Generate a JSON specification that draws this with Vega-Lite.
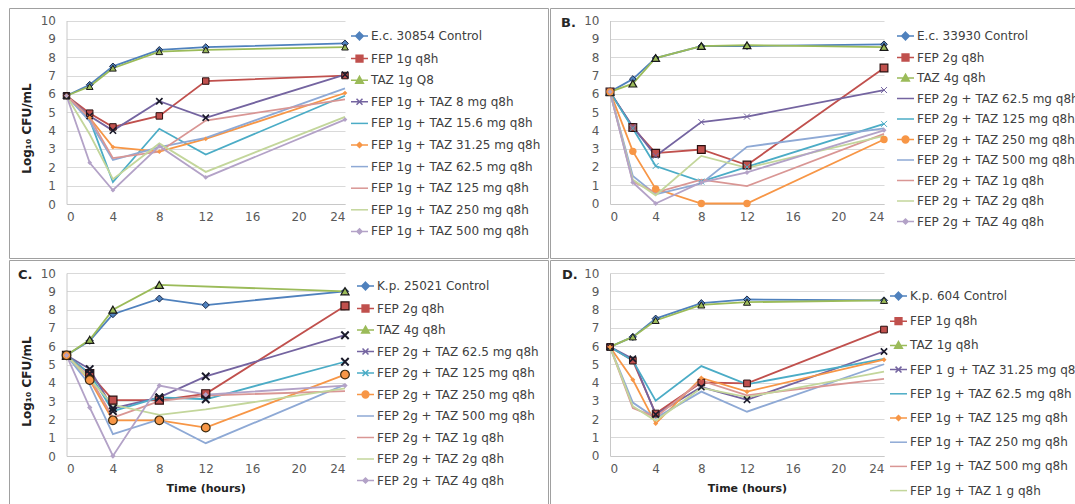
{
"$schema": "https://vega.github.io/schema/vega-lite/v6.json",
"padding": {"left": 8, "top": 7, "right": 0, "bottom": 0},
"datasets": {
"A": [
{"s":"E.c. 30854 Control","t":0,"v":5.9},{"s":"E.c. 30854 Control","t":2,"v":6.5},{"s":"E.c. 30854 Control","t":4,"v":7.5},{"s":"E.c. 30854 Control","t":8,"v":8.4},{"s":"E.c. 30854 Control","t":12,"v":8.55},{"s":"E.c. 30854 Control","t":24,"v":8.75},
{"s":"FEP 1g q8h","t":0,"v":5.9},{"s":"FEP 1g q8h","t":2,"v":4.95},{"s":"FEP 1g q8h","t":4,"v":4.2},{"s":"FEP 1g q8h","t":8,"v":4.8},{"s":"FEP 1g q8h","t":12,"v":6.7},{"s":"FEP 1g q8h","t":24,"v":7.0},
{"s":"TAZ 1g Q8","t":0,"v":5.9},{"s":"TAZ 1g Q8","t":2,"v":6.4},{"s":"TAZ 1g Q8","t":4,"v":7.4},{"s":"TAZ 1g Q8","t":8,"v":8.3},{"s":"TAZ 1g Q8","t":12,"v":8.4},{"s":"TAZ 1g Q8","t":24,"v":8.55},
{"s":"FEP 1g + TAZ 8 mg q8h","t":0,"v":5.9},{"s":"FEP 1g + TAZ 8 mg q8h","t":2,"v":4.8},{"s":"FEP 1g + TAZ 8 mg q8h","t":4,"v":4.0},{"s":"FEP 1g + TAZ 8 mg q8h","t":8,"v":5.6},{"s":"FEP 1g + TAZ 8 mg q8h","t":12,"v":4.7},{"s":"FEP 1g + TAZ 8 mg q8h","t":24,"v":7.05},
{"s":"FEP 1g + TAZ 15.6 mg q8h","t":0,"v":5.9},{"s":"FEP 1g + TAZ 15.6 mg q8h","t":2,"v":4.6},{"s":"FEP 1g + TAZ 15.6 mg q8h","t":4,"v":1.2},{"s":"FEP 1g + TAZ 15.6 mg q8h","t":8,"v":4.1},{"s":"FEP 1g + TAZ 15.6 mg q8h","t":12,"v":2.7},{"s":"FEP 1g + TAZ 15.6 mg q8h","t":24,"v":5.9},
{"s":"FEP 1g + TAZ 31.25 mg q8h","t":0,"v":5.9},{"s":"FEP 1g + TAZ 31.25 mg q8h","t":2,"v":4.7},{"s":"FEP 1g + TAZ 31.25 mg q8h","t":4,"v":3.1},{"s":"FEP 1g + TAZ 31.25 mg q8h","t":8,"v":2.85},{"s":"FEP 1g + TAZ 31.25 mg q8h","t":12,"v":3.55},{"s":"FEP 1g + TAZ 31.25 mg q8h","t":24,"v":6.05},
{"s":"FEP 1g + TAZ 62.5 mg q8h","t":0,"v":5.9},{"s":"FEP 1g + TAZ 62.5 mg q8h","t":2,"v":4.5},{"s":"FEP 1g + TAZ 62.5 mg q8h","t":4,"v":2.4},{"s":"FEP 1g + TAZ 62.5 mg q8h","t":8,"v":3.1},{"s":"FEP 1g + TAZ 62.5 mg q8h","t":12,"v":3.6},{"s":"FEP 1g + TAZ 62.5 mg q8h","t":24,"v":6.3},
{"s":"FEP 1g + TAZ 125 mg q8h","t":0,"v":5.9},{"s":"FEP 1g + TAZ 125 mg q8h","t":2,"v":4.7},{"s":"FEP 1g + TAZ 125 mg q8h","t":4,"v":2.5},{"s":"FEP 1g + TAZ 125 mg q8h","t":8,"v":2.85},{"s":"FEP 1g + TAZ 125 mg q8h","t":12,"v":4.55},{"s":"FEP 1g + TAZ 125 mg q8h","t":24,"v":5.7},
{"s":"FEP 1g + TAZ 250 mg q8h","t":0,"v":5.9},{"s":"FEP 1g + TAZ 250 mg q8h","t":2,"v":3.8},{"s":"FEP 1g + TAZ 250 mg q8h","t":4,"v":1.35},{"s":"FEP 1g + TAZ 250 mg q8h","t":8,"v":3.3},{"s":"FEP 1g + TAZ 250 mg q8h","t":12,"v":1.75},{"s":"FEP 1g + TAZ 250 mg q8h","t":24,"v":4.75},
{"s":"FEP 1g + TAZ 500 mg q8h","t":0,"v":5.9},{"s":"FEP 1g + TAZ 500 mg q8h","t":2,"v":2.25},{"s":"FEP 1g + TAZ 500 mg q8h","t":4,"v":0.75},{"s":"FEP 1g + TAZ 500 mg q8h","t":8,"v":3.15},{"s":"FEP 1g + TAZ 500 mg q8h","t":12,"v":1.45},{"s":"FEP 1g + TAZ 500 mg q8h","t":24,"v":4.6}
],
"B": [
{"s":"E.c. 33930 Control","t":0,"v":6.1},{"s":"E.c. 33930 Control","t":2,"v":6.8},{"s":"E.c. 33930 Control","t":4,"v":7.95},{"s":"E.c. 33930 Control","t":8,"v":8.6},{"s":"E.c. 33930 Control","t":12,"v":8.6},{"s":"E.c. 33930 Control","t":24,"v":8.7},
{"s":"FEP 2g q8h","t":0,"v":6.1},{"s":"FEP 2g q8h","t":2,"v":4.15},{"s":"FEP 2g q8h","t":4,"v":2.75},{"s":"FEP 2g q8h","t":8,"v":2.95},{"s":"FEP 2g q8h","t":12,"v":2.1},{"s":"FEP 2g q8h","t":24,"v":7.4},
{"s":"TAZ 4g q8h","t":0,"v":6.1},{"s":"TAZ 4g q8h","t":2,"v":6.55},{"s":"TAZ 4g q8h","t":4,"v":7.95},{"s":"TAZ 4g q8h","t":8,"v":8.6},{"s":"TAZ 4g q8h","t":12,"v":8.65},{"s":"TAZ 4g q8h","t":24,"v":8.55},
{"s":"FEP 2g + TAZ 62.5 mg q8h","t":0,"v":6.1},{"s":"FEP 2g + TAZ 62.5 mg q8h","t":2,"v":4.2},{"s":"FEP 2g + TAZ 62.5 mg q8h","t":4,"v":2.6},{"s":"FEP 2g + TAZ 62.5 mg q8h","t":8,"v":4.45},{"s":"FEP 2g + TAZ 62.5 mg q8h","t":12,"v":4.75},{"s":"FEP 2g + TAZ 62.5 mg q8h","t":24,"v":6.2},
{"s":"FEP 2g + TAZ 125 mg q8h","t":0,"v":6.1},{"s":"FEP 2g + TAZ 125 mg q8h","t":2,"v":4.1},{"s":"FEP 2g + TAZ 125 mg q8h","t":4,"v":2.05},{"s":"FEP 2g + TAZ 125 mg q8h","t":8,"v":1.2},{"s":"FEP 2g + TAZ 125 mg q8h","t":12,"v":2.0},{"s":"FEP 2g + TAZ 125 mg q8h","t":24,"v":4.35},
{"s":"FEP 2g + TAZ 250 mg q8h","t":0,"v":6.1},{"s":"FEP 2g + TAZ 250 mg q8h","t":2,"v":2.85},{"s":"FEP 2g + TAZ 250 mg q8h","t":4,"v":0.8},{"s":"FEP 2g + TAZ 250 mg q8h","t":8,"v":0},{"s":"FEP 2g + TAZ 250 mg q8h","t":12,"v":0},{"s":"FEP 2g + TAZ 250 mg q8h","t":24,"v":3.5},
{"s":"FEP 2g + TAZ 500 mg q8h","t":0,"v":6.1},{"s":"FEP 2g + TAZ 500 mg q8h","t":2,"v":1.5},{"s":"FEP 2g + TAZ 500 mg q8h","t":4,"v":0.5},{"s":"FEP 2g + TAZ 500 mg q8h","t":8,"v":1.1},{"s":"FEP 2g + TAZ 500 mg q8h","t":12,"v":3.1},{"s":"FEP 2g + TAZ 500 mg q8h","t":24,"v":4.1},
{"s":"FEP 2g + TAZ 1g q8h","t":0,"v":6.1},{"s":"FEP 2g + TAZ 1g q8h","t":2,"v":1.2},{"s":"FEP 2g + TAZ 1g q8h","t":4,"v":0.6},{"s":"FEP 2g + TAZ 1g q8h","t":8,"v":1.3},{"s":"FEP 2g + TAZ 1g q8h","t":12,"v":0.95},{"s":"FEP 2g + TAZ 1g q8h","t":24,"v":3.8},
{"s":"FEP 2g + TAZ 2g q8h","t":0,"v":6.1},{"s":"FEP 2g + TAZ 2g q8h","t":2,"v":1.3},{"s":"FEP 2g + TAZ 2g q8h","t":4,"v":0.45},{"s":"FEP 2g + TAZ 2g q8h","t":8,"v":2.6},{"s":"FEP 2g + TAZ 2g q8h","t":12,"v":1.95},{"s":"FEP 2g + TAZ 2g q8h","t":24,"v":3.7},
{"s":"FEP 2g + TAZ 4g q8h","t":0,"v":6.1},{"s":"FEP 2g + TAZ 4g q8h","t":2,"v":1.15},{"s":"FEP 2g + TAZ 4g q8h","t":4,"v":0},{"s":"FEP 2g + TAZ 4g q8h","t":8,"v":1.15},{"s":"FEP 2g + TAZ 4g q8h","t":12,"v":1.7},{"s":"FEP 2g + TAZ 4g q8h","t":24,"v":4.0}
],
"C": [
{"s":"K.p. 25021 Control","t":0,"v":5.5},{"s":"K.p. 25021 Control","t":2,"v":6.3},{"s":"K.p. 25021 Control","t":4,"v":7.75},{"s":"K.p. 25021 Control","t":8,"v":8.6},{"s":"K.p. 25021 Control","t":12,"v":8.25},{"s":"K.p. 25021 Control","t":24,"v":9.0},
{"s":"FEP 2g q8h","t":0,"v":5.5},{"s":"FEP 2g q8h","t":2,"v":4.5},{"s":"FEP 2g q8h","t":4,"v":3.05},{"s":"FEP 2g q8h","t":8,"v":3.05},{"s":"FEP 2g q8h","t":12,"v":3.4},{"s":"FEP 2g q8h","t":24,"v":8.2},
{"s":"TAZ 4g q8h","t":0,"v":5.5},{"s":"TAZ 4g q8h","t":2,"v":6.35},{"s":"TAZ 4g q8h","t":4,"v":8.0},{"s":"TAZ 4g q8h","t":8,"v":9.35},{"s":"TAZ 4g q8h","t":24,"v":9.0},
{"s":"FEP 2g + TAZ 62.5 mg q8h","t":0,"v":5.5},{"s":"FEP 2g + TAZ 62.5 mg q8h","t":2,"v":4.75},{"s":"FEP 2g + TAZ 62.5 mg q8h","t":4,"v":2.6},{"s":"FEP 2g + TAZ 62.5 mg q8h","t":8,"v":3.2},{"s":"FEP 2g + TAZ 62.5 mg q8h","t":12,"v":4.35},{"s":"FEP 2g + TAZ 62.5 mg q8h","t":24,"v":6.6},
{"s":"FEP 2g + TAZ 125 mg q8h","t":0,"v":5.5},{"s":"FEP 2g + TAZ 125 mg q8h","t":2,"v":4.5},{"s":"FEP 2g + TAZ 125 mg q8h","t":4,"v":2.45},{"s":"FEP 2g + TAZ 125 mg q8h","t":8,"v":3.2},{"s":"FEP 2g + TAZ 125 mg q8h","t":12,"v":3.1},{"s":"FEP 2g + TAZ 125 mg q8h","t":24,"v":5.15},
{"s":"FEP 2g + TAZ 250 mg q8h","t":0,"v":5.5},{"s":"FEP 2g + TAZ 250 mg q8h","t":2,"v":4.15},{"s":"FEP 2g + TAZ 250 mg q8h","t":4,"v":1.95},{"s":"FEP 2g + TAZ 250 mg q8h","t":8,"v":1.95},{"s":"FEP 2g + TAZ 250 mg q8h","t":12,"v":1.55},{"s":"FEP 2g + TAZ 250 mg q8h","t":24,"v":4.45},
{"s":"FEP 2g + TAZ 500 mg q8h","t":0,"v":5.5},{"s":"FEP 2g + TAZ 500 mg q8h","t":2,"v":3.9},{"s":"FEP 2g + TAZ 500 mg q8h","t":4,"v":1.2},{"s":"FEP 2g + TAZ 500 mg q8h","t":8,"v":2.0},{"s":"FEP 2g + TAZ 500 mg q8h","t":12,"v":0.7},{"s":"FEP 2g + TAZ 500 mg q8h","t":24,"v":3.9},
{"s":"FEP 2g + TAZ 1g q8h","t":0,"v":5.5},{"s":"FEP 2g + TAZ 1g q8h","t":2,"v":4.3},{"s":"FEP 2g + TAZ 1g q8h","t":4,"v":2.1},{"s":"FEP 2g + TAZ 1g q8h","t":8,"v":3.0},{"s":"FEP 2g + TAZ 1g q8h","t":12,"v":3.3},{"s":"FEP 2g + TAZ 1g q8h","t":24,"v":3.55},
{"s":"FEP 2g + TAZ 2g q8h","t":0,"v":5.5},{"s":"FEP 2g + TAZ 2g q8h","t":2,"v":4.2},{"s":"FEP 2g + TAZ 2g q8h","t":4,"v":2.8},{"s":"FEP 2g + TAZ 2g q8h","t":8,"v":2.25},{"s":"FEP 2g + TAZ 2g q8h","t":12,"v":2.55},{"s":"FEP 2g + TAZ 2g q8h","t":24,"v":3.7},
{"s":"FEP 2g + TAZ 4g q8h","t":0,"v":5.5},{"s":"FEP 2g + TAZ 4g q8h","t":2,"v":2.65},{"s":"FEP 2g + TAZ 4g q8h","t":4,"v":0},{"s":"FEP 2g + TAZ 4g q8h","t":8,"v":3.85},{"s":"FEP 2g + TAZ 4g q8h","t":12,"v":3.35},{"s":"FEP 2g + TAZ 4g q8h","t":24,"v":3.85}
],
"D": [
{"s":"K.p. 604 Control","t":0,"v":5.95},{"s":"K.p. 604 Control","t":2,"v":6.5},{"s":"K.p. 604 Control","t":4,"v":7.5},{"s":"K.p. 604 Control","t":8,"v":8.35},{"s":"K.p. 604 Control","t":12,"v":8.55},{"s":"K.p. 604 Control","t":24,"v":8.5},
{"s":"FEP 1g q8h","t":0,"v":5.95},{"s":"FEP 1g q8h","t":2,"v":5.2},{"s":"FEP 1g q8h","t":4,"v":2.3},{"s":"FEP 1g q8h","t":8,"v":4.0},{"s":"FEP 1g q8h","t":12,"v":3.95},{"s":"FEP 1g q8h","t":24,"v":6.9},
{"s":"TAZ 1g q8h","t":0,"v":5.95},{"s":"TAZ 1g q8h","t":2,"v":6.5},{"s":"TAZ 1g q8h","t":4,"v":7.4},{"s":"TAZ 1g q8h","t":8,"v":8.25},{"s":"TAZ 1g q8h","t":12,"v":8.4},{"s":"TAZ 1g q8h","t":24,"v":8.5},
{"s":"FEP 1 g + TAZ 31.25 mg q8h","t":0,"v":5.95},{"s":"FEP 1 g + TAZ 31.25 mg q8h","t":2,"v":5.3},{"s":"FEP 1 g + TAZ 31.25 mg q8h","t":4,"v":2.25},{"s":"FEP 1 g + TAZ 31.25 mg q8h","t":8,"v":3.75},{"s":"FEP 1 g + TAZ 31.25 mg q8h","t":12,"v":3.05},{"s":"FEP 1 g + TAZ 31.25 mg q8h","t":24,"v":5.7},
{"s":"FEP 1g + TAZ 62.5 mg q8h","t":0,"v":5.95},{"s":"FEP 1g + TAZ 62.5 mg q8h","t":2,"v":5.2},{"s":"FEP 1g + TAZ 62.5 mg q8h","t":4,"v":3.0},{"s":"FEP 1g + TAZ 62.5 mg q8h","t":8,"v":4.9},{"s":"FEP 1g + TAZ 62.5 mg q8h","t":12,"v":3.9},{"s":"FEP 1g + TAZ 62.5 mg q8h","t":24,"v":5.3},
{"s":"FEP 1g + TAZ 125 mg q8h","t":0,"v":5.95},{"s":"FEP 1g + TAZ 125 mg q8h","t":2,"v":4.15},{"s":"FEP 1g + TAZ 125 mg q8h","t":4,"v":1.75},{"s":"FEP 1g + TAZ 125 mg q8h","t":8,"v":4.25},{"s":"FEP 1g + TAZ 125 mg q8h","t":12,"v":3.5},{"s":"FEP 1g + TAZ 125 mg q8h","t":24,"v":5.25},
{"s":"FEP 1g + TAZ 250 mg q8h","t":0,"v":5.95},{"s":"FEP 1g + TAZ 250 mg q8h","t":2,"v":2.9},{"s":"FEP 1g + TAZ 250 mg q8h","t":4,"v":2.05},{"s":"FEP 1g + TAZ 250 mg q8h","t":8,"v":3.5},{"s":"FEP 1g + TAZ 250 mg q8h","t":12,"v":2.4},{"s":"FEP 1g + TAZ 250 mg q8h","t":24,"v":5.0},
{"s":"FEP 1g + TAZ 500 mg q8h","t":0,"v":5.95},{"s":"FEP 1g + TAZ 500 mg q8h","t":2,"v":2.6},{"s":"FEP 1g + TAZ 500 mg q8h","t":4,"v":2.1},{"s":"FEP 1g + TAZ 500 mg q8h","t":8,"v":4.1},{"s":"FEP 1g + TAZ 500 mg q8h","t":12,"v":3.3},{"s":"FEP 1g + TAZ 500 mg q8h","t":24,"v":4.2},
{"s":"FEP 1g + TAZ 1 g q8h","t":0,"v":5.95},{"s":"FEP 1g + TAZ 1 g q8h","t":2,"v":2.7},{"s":"FEP 1g + TAZ 1 g q8h","t":4,"v":1.9},{"s":"FEP 1g + TAZ 1 g q8h","t":8,"v":3.7},{"s":"FEP 1g + TAZ 1 g q8h","t":12,"v":3.2},{"s":"FEP 1g + TAZ 1 g q8h","t":24,"v":4.6}
]
},
"spacing": 0,
"resolve": {"scale": {"color": "independent", "shape": "independent"}, "legend": {"color": "independent", "shape": "independent"}},
"vconcat": [
{"spacing": 0,
"resolve": {"scale": {"color": "independent", "shape": "independent"}, "legend": {"color": "independent", "shape": "independent"}},
"hconcat": [
{
"width": 539, "height": 250,
"data": {"name": "A"},
"encoding": {
 "x": {"field": "t", "type": "quantitative", "scale": {"domain": [0, 24], "range": [57.5, 336], "nice": false}, "axis": {"values": [0,4,8,12,16,20,24], "offset": -54, "title": null}},
 "y": {"field": "v", "type": "quantitative", "scale": {"domain": [0, 10], "range": [196, 12.5], "nice": false, "zero": false}, "axis": {"values": [0,1,2,3,4,5,6,7,8,9,10], "offset": -57.5, "title": "Log₁₀ CFU/mL", "titleX": -33, "titleY": 120, "titleFontSize": 12}},
 "color": {"field": "s", "type": "nominal", "scale": {"domain": ["E.c. 30854 Control","FEP 1g q8h","TAZ 1g Q8","FEP 1g + TAZ 8 mg q8h","FEP 1g + TAZ 15.6 mg q8h","FEP 1g + TAZ 31.25 mg q8h","FEP 1g + TAZ 62.5 mg q8h","FEP 1g + TAZ 125 mg q8h","FEP 1g + TAZ 250 mg q8h","FEP 1g + TAZ 500 mg q8h"], "range": ["#4F81BD","#C0504D","#9BBB59","#7464A0","#4BACC6","#F79646","#8EA9D5","#D99694","#C3D69B","#B3A2C7"]}}
},
"layer": [
 {"mark": {"type": "line", "strokeWidth": 1.8}},
 {"transform": [{"filter": {"field": "s", "oneOf": ["E.c. 30854 Control"]}}], "mark": {"type": "point", "shape": "diamond", "filled": true, "size": 45, "stroke": "#1b2a4a", "strokeWidth": 1, "opacity": 1}},
 {"transform": [{"filter": {"field": "s", "oneOf": ["FEP 1g q8h"]}}], "mark": {"type": "point", "shape": "square", "filled": true, "size": 42, "stroke": "#2a1010", "strokeWidth": 1, "opacity": 1}},
 {"transform": [{"filter": {"field": "s", "oneOf": ["TAZ 1g Q8"]}}], "mark": {"type": "point", "shape": "triangle-up", "filled": true, "size": 45, "stroke": "#1a1a1a", "strokeWidth": 1, "opacity": 1}},
 {"transform": [{"filter": {"field": "s", "oneOf": ["FEP 1g + TAZ 8 mg q8h"]}}], "mark": {"type": "point", "shape": "M-1,-1L1,1M-1,1L1,-1", "filled": true, "size": 40, "stroke": "#1a1a2a", "strokeWidth": 1.6, "opacity": 1}},
 {"transform": [{"filter": {"field": "s", "oneOf": ["FEP 1g + TAZ 31.25 mg q8h", "FEP 1g + TAZ 500 mg q8h"]}}], "mark": {"type": "point", "shape": "diamond", "filled": true, "size": 22, "strokeWidth": 0, "opacity": 1}},
 {"transform": [{"filter": "datum.t < 0"}], "mark": {"type": "point", "filled": false, "opacity": 1},
  "encoding": {
   "color": {"field": "s", "type": "nominal", "scale": {"domain": ["E.c. 30854 Control","FEP 1g q8h","TAZ 1g Q8","FEP 1g + TAZ 8 mg q8h","FEP 1g + TAZ 15.6 mg q8h","FEP 1g + TAZ 31.25 mg q8h","FEP 1g + TAZ 62.5 mg q8h","FEP 1g + TAZ 125 mg q8h","FEP 1g + TAZ 250 mg q8h","FEP 1g + TAZ 500 mg q8h"], "range": ["#4F81BD","#C0504D","#9BBB59","#7464A0","#4BACC6","#F79646","#8EA9D5","#D99694","#C3D69B","#B3A2C7"]},
     "legend": {"orient": "none", "legendX": 341, "legendY": 18.5, "title": null, "rowPadding": 5.6}},
   "shape": {"field": "s", "type": "nominal", "scale": {"domain": ["E.c. 30854 Control","FEP 1g q8h","TAZ 1g Q8","FEP 1g + TAZ 8 mg q8h","FEP 1g + TAZ 15.6 mg q8h","FEP 1g + TAZ 31.25 mg q8h","FEP 1g + TAZ 62.5 mg q8h","FEP 1g + TAZ 125 mg q8h","FEP 1g + TAZ 250 mg q8h","FEP 1g + TAZ 500 mg q8h"],
     "range": ["M-1,0L1,0M0,-0.45L0.45,0L0,0.45L-0.45,0ZM0,-0.2L0.2,0L0,0.2L-0.2,0Z","M-1,0L1,0M-0.4,-0.4L0.4,-0.4L0.4,0.4L-0.4,0.4ZM-0.18,-0.18L0.18,-0.18L0.18,0.18L-0.18,0.18Z","M-1,0L1,0M0,-0.45L0.45,0.35L-0.45,0.35ZM0,-0.15L0.18,0.2L-0.18,0.2Z","M-1,0L1,0M-0.35,-0.35L0.35,0.35M-0.35,0.35L0.35,-0.35","M-1,0L1,0","M-1,0L1,0M0,-0.3L0.3,0L0,0.3L-0.3,0Z","M-1,0L1,0","M-1,0L1,0","M-1,0L1,0","M-1,0L1,0M0,-0.3L0.3,0L0,0.3L-0.3,0Z"]},
     "legend": {"orient": "none", "legendX": 341, "legendY": 18.5, "title": null, "rowPadding": 5.6}}
  }}
]
},
{
"width": 539, "height": 250,
"data": {"name": "B"},
"title": {"text": "B.", "anchor": "start", "frame": "group", "offset": -22, "dx": 11, "fontSize": 13, "fontWeight": "bold", "color": "#262626", "font": "DejaVu Sans"},
"encoding": {
 "x": {"field": "t", "type": "quantitative", "scale": {"domain": [0, 24], "range": [60, 334], "nice": false}, "axis": {"values": [0,4,8,12,16,20,24], "offset": -54, "title": null}},
 "y": {"field": "v", "type": "quantitative", "scale": {"domain": [0, 10], "range": [195.5, 12.5], "nice": false, "zero": false}, "axis": {"values": [0,1,2,3,4,5,6,7,8,9,10], "offset": -60, "title": null}},
 "color": {"field": "s", "type": "nominal", "scale": {"domain": ["E.c. 33930 Control","FEP 2g q8h","TAZ 4g q8h","FEP 2g + TAZ 62.5 mg q8h","FEP 2g + TAZ 125 mg q8h","FEP 2g + TAZ 250 mg q8h","FEP 2g + TAZ 500 mg q8h","FEP 2g + TAZ 1g q8h","FEP 2g + TAZ 2g q8h","FEP 2g + TAZ 4g q8h"], "range": ["#4F81BD","#C0504D","#9BBB59","#7464A0","#4BACC6","#F79646","#8EA9D5","#D99694","#C3D69B","#B3A2C7"]}}
},
"layer": [
 {"mark": {"type": "line", "strokeWidth": 1.8}},
 {"transform": [{"filter": {"field": "s", "oneOf": ["E.c. 33930 Control"]}}], "mark": {"type": "point", "shape": "diamond", "filled": true, "size": 45, "stroke": "#1b2a4a", "strokeWidth": 1, "opacity": 1}},
 {"transform": [{"filter": {"field": "s", "oneOf": ["FEP 2g q8h"]}}], "mark": {"type": "point", "shape": "square", "filled": true, "size": 60, "stroke": "#2a1010", "strokeWidth": 1.2, "opacity": 1}},
 {"transform": [{"filter": {"field": "s", "oneOf": ["TAZ 4g q8h"]}}], "mark": {"type": "point", "shape": "triangle-up", "filled": true, "size": 60, "stroke": "#1a1a1a", "strokeWidth": 1.2, "opacity": 1}},
 {"transform": [{"filter": {"field": "s", "oneOf": ["FEP 2g + TAZ 62.5 mg q8h", "FEP 2g + TAZ 125 mg q8h"]}}], "mark": {"type": "point", "shape": "M-1,-1L1,1M-1,1L1,-1", "filled": false, "size": 36, "strokeWidth": 1, "opacity": 1}},
 {"transform": [{"filter": {"field": "s", "oneOf": ["FEP 2g + TAZ 250 mg q8h"]}}], "mark": {"type": "point", "shape": "circle", "filled": true, "size": 55, "strokeWidth": 0, "opacity": 1}},
 {"transform": [{"filter": {"field": "s", "oneOf": ["FEP 2g + TAZ 4g q8h"]}}], "mark": {"type": "point", "shape": "diamond", "filled": true, "size": 25, "strokeWidth": 0, "opacity": 1}},
 {"transform": [{"filter": "datum.t < 0"}], "mark": {"type": "point", "filled": false, "opacity": 1},
  "encoding": {
   "color": {"field": "s", "type": "nominal", "scale": {"domain": ["E.c. 33930 Control","FEP 2g q8h","TAZ 4g q8h","FEP 2g + TAZ 62.5 mg q8h","FEP 2g + TAZ 125 mg q8h","FEP 2g + TAZ 250 mg q8h","FEP 2g + TAZ 500 mg q8h","FEP 2g + TAZ 1g q8h","FEP 2g + TAZ 2g q8h","FEP 2g + TAZ 4g q8h"], "range": ["#4F81BD","#C0504D","#9BBB59","#7464A0","#4BACC6","#F79646","#8EA9D5","#D99694","#C3D69B","#B3A2C7"]},
     "legend": {"orient": "none", "legendX": 346, "legendY": 18.5, "title": null, "rowPadding": 4.5}},
   "shape": {"field": "s", "type": "nominal", "scale": {"domain": ["E.c. 33930 Control","FEP 2g q8h","TAZ 4g q8h","FEP 2g + TAZ 62.5 mg q8h","FEP 2g + TAZ 125 mg q8h","FEP 2g + TAZ 250 mg q8h","FEP 2g + TAZ 500 mg q8h","FEP 2g + TAZ 1g q8h","FEP 2g + TAZ 2g q8h","FEP 2g + TAZ 4g q8h"],
     "range": ["M-1,0L1,0M0,-0.45L0.45,0L0,0.45L-0.45,0ZM0,-0.2L0.2,0L0,0.2L-0.2,0Z","M-1,0L1,0M-0.4,-0.4L0.4,-0.4L0.4,0.4L-0.4,0.4ZM-0.18,-0.18L0.18,-0.18L0.18,0.18L-0.18,0.18Z","M-1,0L1,0M0,-0.45L0.45,0.35L-0.45,0.35ZM0,-0.15L0.18,0.2L-0.18,0.2Z","M-1,0L1,0","M-1,0L1,0","M-1,0L1,0M-0.4,0A0.4,0.4,0,1,1,0.4,0A0.4,0.4,0,1,1,-0.4,0ZM-0.18,0A0.18,0.18,0,1,1,0.18,0A0.18,0.18,0,1,1,-0.18,0Z","M-1,0L1,0","M-1,0L1,0","M-1,0L1,0","M-1,0L1,0M0,-0.3L0.3,0L0,0.3L-0.3,0Z"]},
     "legend": {"orient": "none", "legendX": 346, "legendY": 18.5, "title": null, "rowPadding": 4.5}}
  }}
]
}
]},
{"spacing": 0,
"resolve": {"scale": {"color": "independent", "shape": "independent"}, "legend": {"color": "independent", "shape": "independent"}},
"hconcat": [
{
"width": 539, "height": 250,
"data": {"name": "C"},
"title": {"text": "C.", "anchor": "start", "frame": "group", "offset": -22, "dx": 9, "fontSize": 13, "fontWeight": "bold", "color": "#262626", "font": "DejaVu Sans"},
"encoding": {
 "x": {"field": "t", "type": "quantitative", "scale": {"domain": [0, 24], "range": [57.5, 336], "nice": false}, "axis": {"values": [0,4,8,12,16,20,24], "offset": -54, "title": "Time (hours)"}},
 "y": {"field": "v", "type": "quantitative", "scale": {"domain": [0, 10], "range": [196, 13], "nice": false, "zero": false}, "axis": {"values": [0,1,2,3,4,5,6,7,8,9,10], "offset": -57.5, "title": "Log₁₀ CFU/mL", "titleX": -33, "titleY": 121, "titleFontSize": 12}},
 "color": {"field": "s", "type": "nominal", "scale": {"domain": ["K.p. 25021 Control","FEP 2g q8h","TAZ 4g q8h","FEP 2g + TAZ 62.5 mg q8h","FEP 2g + TAZ 125 mg q8h","FEP 2g + TAZ 250 mg q8h","FEP 2g + TAZ 500 mg q8h","FEP 2g + TAZ 1g q8h","FEP 2g + TAZ 2g q8h","FEP 2g + TAZ 4g q8h"], "range": ["#4F81BD","#C0504D","#9BBB59","#7464A0","#4BACC6","#F79646","#8EA9D5","#D99694","#C3D69B","#B3A2C7"]}}
},
"layer": [
 {"mark": {"type": "line", "strokeWidth": 1.8}},
 {"transform": [{"filter": {"field": "s", "oneOf": ["K.p. 25021 Control"]}}], "mark": {"type": "point", "shape": "diamond", "filled": true, "size": 50, "stroke": "#1b2a4a", "strokeWidth": 1, "opacity": 1}},
 {"transform": [{"filter": {"field": "s", "oneOf": ["FEP 2g q8h"]}}], "mark": {"type": "point", "shape": "square", "filled": true, "size": 65, "stroke": "#2a1010", "strokeWidth": 1.2, "opacity": 1}},
 {"transform": [{"filter": {"field": "s", "oneOf": ["TAZ 4g q8h"]}}], "mark": {"type": "point", "shape": "triangle-up", "filled": true, "size": 65, "stroke": "#1a1a1a", "strokeWidth": 1.2, "opacity": 1}},
 {"transform": [{"filter": {"field": "s", "oneOf": ["FEP 2g + TAZ 62.5 mg q8h", "FEP 2g + TAZ 125 mg q8h"]}}], "mark": {"type": "point", "shape": "M-1,-1L1,1M-1,1L1,-1", "filled": true, "size": 55, "stroke": "#1a1a2a", "strokeWidth": 2, "opacity": 1}},
 {"transform": [{"filter": {"field": "s", "oneOf": ["FEP 2g + TAZ 250 mg q8h"]}}], "mark": {"type": "point", "shape": "circle", "filled": true, "size": 75, "stroke": "#3a2a10", "strokeWidth": 1.2, "opacity": 1}},
 {"transform": [{"filter": {"field": "s", "oneOf": ["FEP 2g + TAZ 4g q8h"]}}], "mark": {"type": "point", "shape": "diamond", "filled": true, "size": 28, "strokeWidth": 0, "opacity": 1}},
 {"transform": [{"filter": "datum.t < 0"}], "mark": {"type": "point", "filled": false, "opacity": 1},
  "encoding": {
   "color": {"field": "s", "type": "nominal", "scale": {"domain": ["K.p. 25021 Control","FEP 2g q8h","TAZ 4g q8h","FEP 2g + TAZ 62.5 mg q8h","FEP 2g + TAZ 125 mg q8h","FEP 2g + TAZ 250 mg q8h","FEP 2g + TAZ 500 mg q8h","FEP 2g + TAZ 1g q8h","FEP 2g + TAZ 2g q8h","FEP 2g + TAZ 4g q8h"], "range": ["#4F81BD","#C0504D","#9BBB59","#7464A0","#4BACC6","#F79646","#8EA9D5","#D99694","#C3D69B","#B3A2C7"]},
     "legend": {"orient": "none", "legendX": 347, "legendY": 16.5, "title": null, "rowPadding": 5.5}},
   "shape": {"field": "s", "type": "nominal", "scale": {"domain": ["K.p. 25021 Control","FEP 2g q8h","TAZ 4g q8h","FEP 2g + TAZ 62.5 mg q8h","FEP 2g + TAZ 125 mg q8h","FEP 2g + TAZ 250 mg q8h","FEP 2g + TAZ 500 mg q8h","FEP 2g + TAZ 1g q8h","FEP 2g + TAZ 2g q8h","FEP 2g + TAZ 4g q8h"],
     "range": ["M-1,0L1,0M0,-0.45L0.45,0L0,0.45L-0.45,0ZM0,-0.2L0.2,0L0,0.2L-0.2,0Z","M-1,0L1,0M-0.4,-0.4L0.4,-0.4L0.4,0.4L-0.4,0.4ZM-0.18,-0.18L0.18,-0.18L0.18,0.18L-0.18,0.18Z","M-1,0L1,0M0,-0.45L0.45,0.35L-0.45,0.35ZM0,-0.15L0.18,0.2L-0.18,0.2Z","M-1,0L1,0M-0.35,-0.35L0.35,0.35M-0.35,0.35L0.35,-0.35","M-1,0L1,0M-0.35,-0.35L0.35,0.35M-0.35,0.35L0.35,-0.35","M-1,0L1,0M-0.4,0A0.4,0.4,0,1,1,0.4,0A0.4,0.4,0,1,1,-0.4,0ZM-0.18,0A0.18,0.18,0,1,1,0.18,0A0.18,0.18,0,1,1,-0.18,0Z","M-1,0L1,0","M-1,0L1,0","M-1,0L1,0","M-1,0L1,0M0,-0.3L0.3,0L0,0.3L-0.3,0Z"]},
     "legend": {"orient": "none", "legendX": 347, "legendY": 16.5, "title": null, "rowPadding": 5.5}}
  }}
]
},
{
"width": 539, "height": 250,
"data": {"name": "D"},
"title": {"text": "D.", "anchor": "start", "frame": "group", "offset": -22, "dx": 12, "fontSize": 13, "fontWeight": "bold", "color": "#262626", "font": "DejaVu Sans"},
"encoding": {
 "x": {"field": "t", "type": "quantitative", "scale": {"domain": [0, 24], "range": [60, 334], "nice": false}, "axis": {"values": [0,4,8,12,16,20,24], "offset": -54, "title": "Time (hours)"}},
 "y": {"field": "v", "type": "quantitative", "scale": {"domain": [0, 10], "range": [195.5, 13], "nice": false, "zero": false}, "axis": {"values": [0,1,2,3,4,5,6,7,8,9,10], "offset": -60, "title": null}},
 "color": {"field": "s", "type": "nominal", "scale": {"domain": ["K.p. 604 Control","FEP 1g q8h","TAZ 1g q8h","FEP 1 g + TAZ 31.25 mg q8h","FEP 1g + TAZ 62.5 mg q8h","FEP 1g + TAZ 125 mg q8h","FEP 1g + TAZ 250 mg q8h","FEP 1g + TAZ 500 mg q8h","FEP 1g + TAZ 1 g q8h"], "range": ["#4F81BD","#C0504D","#9BBB59","#7464A0","#4BACC6","#F79646","#8EA9D5","#D99694","#C3D69B"]}}
},
"layer": [
 {"mark": {"type": "line", "strokeWidth": 1.8}},
 {"transform": [{"filter": {"field": "s", "oneOf": ["K.p. 604 Control"]}}], "mark": {"type": "point", "shape": "diamond", "filled": true, "size": 50, "stroke": "#1b2a4a", "strokeWidth": 1, "opacity": 1}},
 {"transform": [{"filter": {"field": "s", "oneOf": ["FEP 1g q8h"]}}], "mark": {"type": "point", "shape": "square", "filled": true, "size": 45, "stroke": "#2a1010", "strokeWidth": 1, "opacity": 1}},
 {"transform": [{"filter": {"field": "s", "oneOf": ["TAZ 1g q8h"]}}], "mark": {"type": "point", "shape": "triangle-up", "filled": true, "size": 50, "stroke": "#1a1a1a", "strokeWidth": 1, "opacity": 1}},
 {"transform": [{"filter": {"field": "s", "oneOf": ["FEP 1 g + TAZ 31.25 mg q8h"]}}], "mark": {"type": "point", "shape": "M-1,-1L1,1M-1,1L1,-1", "filled": true, "size": 40, "stroke": "#1a1a2a", "strokeWidth": 1.6, "opacity": 1}},
 {"transform": [{"filter": {"field": "s", "oneOf": ["FEP 1g + TAZ 125 mg q8h"]}}], "mark": {"type": "point", "shape": "diamond", "filled": true, "size": 25, "strokeWidth": 0, "opacity": 1}},
 {"transform": [{"filter": "datum.t < 0"}], "mark": {"type": "point", "filled": false, "opacity": 1},
  "encoding": {
   "color": {"field": "s", "type": "nominal", "scale": {"domain": ["K.p. 604 Control","FEP 1g q8h","TAZ 1g q8h","FEP 1 g + TAZ 31.25 mg q8h","FEP 1g + TAZ 62.5 mg q8h","FEP 1g + TAZ 125 mg q8h","FEP 1g + TAZ 250 mg q8h","FEP 1g + TAZ 500 mg q8h","FEP 1g + TAZ 1 g q8h"], "range": ["#4F81BD","#C0504D","#9BBB59","#7464A0","#4BACC6","#F79646","#8EA9D5","#D99694","#C3D69B"]},
     "legend": {"orient": "none", "legendX": 339, "legendY": 26.5, "title": null, "rowPadding": 8.2}},
   "shape": {"field": "s", "type": "nominal", "scale": {"domain": ["K.p. 604 Control","FEP 1g q8h","TAZ 1g q8h","FEP 1 g + TAZ 31.25 mg q8h","FEP 1g + TAZ 62.5 mg q8h","FEP 1g + TAZ 125 mg q8h","FEP 1g + TAZ 250 mg q8h","FEP 1g + TAZ 500 mg q8h","FEP 1g + TAZ 1 g q8h"],
     "range": ["M-1,0L1,0M0,-0.45L0.45,0L0,0.45L-0.45,0ZM0,-0.2L0.2,0L0,0.2L-0.2,0Z","M-1,0L1,0M-0.4,-0.4L0.4,-0.4L0.4,0.4L-0.4,0.4ZM-0.18,-0.18L0.18,-0.18L0.18,0.18L-0.18,0.18Z","M-1,0L1,0M0,-0.45L0.45,0.35L-0.45,0.35ZM0,-0.15L0.18,0.2L-0.18,0.2Z","M-1,0L1,0M-0.35,-0.35L0.35,0.35M-0.35,0.35L0.35,-0.35","M-1,0L1,0","M-1,0L1,0M0,-0.3L0.3,0L0,0.3L-0.3,0Z","M-1,0L1,0","M-1,0L1,0","M-1,0L1,0"]},
     "legend": {"orient": "none", "legendX": 339, "legendY": 26.5, "title": null, "rowPadding": 8.2}}
  }}
]
}
]}
],
"config": {
 "font": "DejaVu Sans",
 "view": {"stroke": "#a0a0a0", "strokeWidth": 1},
 "axis": {"ticks": false, "labelFont": "DejaVu Sans", "labelFontSize": 12, "labelColor": "#595959", "domainColor": "#c8c8c8", "gridColor": "#d9d9d9", "titleFont": "DejaVu Sans", "titleFontSize": 11, "titleFontWeight": "bold", "titleColor": "#222222"},
 "axisX": {"grid": false, "labelPadding": 7, "titlePadding": 8},
 "axisY": {"grid": true, "labelPadding": 11},
 "legend": {"labelFont": "DejaVu Sans", "labelFontSize": 12, "labelColor": "#404040", "symbolSize": 289, "symbolStrokeWidth": 1.5, "labelOffset": 2, "labelLimit": 400, "padding": 0}
}
}
